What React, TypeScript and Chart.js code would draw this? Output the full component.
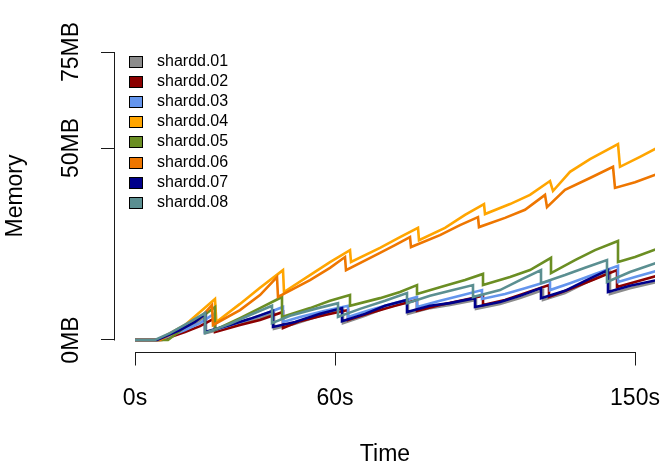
import React, { useEffect, useRef } from "react";
import { Chart, registerables } from "chart.js";

Chart.register(...registerables);

// ---- data ----
const seriesNames = ["shardd.01", "shardd.02", "shardd.03", "shardd.04", "shardd.05", "shardd.06", "shardd.07", "shardd.08"];
const seriesColors = ["#8c8c8c", "#8B0000", "#6495ED", "#FFA500", "#6B8E23", "#EE7600", "#00008B", "#5B8F91"];

const xTickValues = [0, 60, 150];
const xTickLabels = ["0s", "60s", "150s"];
const yTickValues = [0, 50, 75];
const yTickLabels = ["0MB", "50MB", "75MB"];

// time (s) and memory (MB) per series
const shardd01T = [0, 6.9, 13.5, 18, 21.3, 21.3, 28.5, 34.5, 41.7, 41.7, 48, 55.5, 62.4, 62.4, 69, 75, 81.9, 81.9, 88.5, 94.5, 102.3, 102.3, 109.5, 115.5, 122.4, 122.4, 129, 135, 142.5, 142.5, 148.5, 156.6];
const shardd01M = [0, 0, 2.1, 4.2, 6.3, 1.8, 3.4, 4.9, 7.0, 2.9, 4.2, 6.3, 7.8, 4.4, 6.3, 8.3, 9.9, 6.8, 8.3, 9.1, 10.4, 8.1, 9.4, 10.9, 13.0, 10.4, 12.2, 14.8, 17.7, 12.0, 13.5, 15.1];

const shardd02T = [0, 8.1, 15, 19.5, 24, 24, 31.5, 37.5, 44.4, 44.4, 49.5, 57, 63.9, 63.9, 70.5, 78, 84.6, 84.6, 91.5, 97.5, 104.4, 104.4, 111, 117, 124.2, 124.2, 130.5, 138, 144.6, 144.6, 150, 156.6];
const shardd02M = [0, 0, 2.1, 3.6, 5.7, 2.1, 3.9, 5.2, 7.3, 3.1, 4.9, 6.5, 7.8, 5.2, 7.0, 8.9, 10.4, 7.6, 9.1, 10.2, 11.5, 9.1, 10.4, 12.2, 14.3, 11.2, 13.3, 15.9, 18.2, 13.8, 15.1, 16.7];

const shardd03T = [0, 7.5, 15, 19.5, 24, 24, 31.5, 37.5, 44.4, 44.4, 49.5, 57, 63.9, 63.9, 70.5, 78, 84.6, 84.6, 91.5, 97.5, 104.1, 104.1, 111, 117, 124.5, 124.5, 130.5, 138, 144.9, 144.9, 150, 156.6];
const shardd03M = [0, 0, 2.6, 4.4, 7.0, 2.6, 4.7, 6.3, 8.6, 4.7, 6.0, 7.6, 8.9, 6.0, 7.8, 9.6, 11.2, 8.6, 10.2, 11.5, 13.0, 10.7, 12.0, 13.5, 15.4, 13.0, 14.8, 17.2, 19.3, 15.1, 16.4, 18.0];

const shardd04T = [0, 6.9, 15, 19.5, 24, 24.4, 31.5, 37.5, 44.4, 44.7, 52.5, 58.5, 64.5, 64.8, 73.5, 79.5, 84.9, 85.2, 93, 99, 104.7, 105, 112.5, 118.5, 124.5, 125.4, 130.5, 136.5, 144.9, 145.5, 151.5, 156.6];
const shardd04M = [0, 0, 3.9, 7.3, 10.7, 4.7, 9.4, 13.6, 18.2, 12.5, 16.9, 20.3, 23.4, 20.3, 24.0, 26.8, 29.2, 26.0, 29.2, 32.6, 35.4, 32.8, 35.4, 37.8, 41.4, 38.8, 43.8, 47.1, 51.0, 45.1, 47.7, 50.0];

const shardd05T = [0, 9.9, 15, 19.5, 24, 24, 31.5, 37.5, 44.1, 44.1, 52.5, 58.5, 64.5, 64.5, 73.5, 79.5, 84.6, 84.6, 93, 99, 104.4, 104.4, 112.5, 118.5, 124.8, 124.8, 132, 138, 144.9, 144.9, 150, 156.6];
const shardd05M = [0, 0, 3.4, 5.7, 8.6, 2.6, 5.7, 8.3, 11.2, 6.0, 8.3, 10.2, 11.7, 8.9, 10.9, 12.5, 14.3, 12.0, 14.1, 15.6, 17.2, 14.3, 16.4, 18.2, 21.4, 17.4, 20.8, 23.4, 25.8, 20.3, 21.6, 23.7];

const shardd06T = [0, 7.5, 15, 19.5, 23.1, 23.4, 31.5, 37.5, 42.6, 42.9, 52.5, 58.5, 63, 63.3, 73.5, 78, 82.5, 82.8, 91.5, 97.5, 102.9, 103.2, 111, 117, 123, 123.6, 129, 136.5, 143.4, 144, 150, 156.6];
const shardd06M = [0, 0, 3.4, 5.7, 9.1, 3.9, 7.8, 11.7, 16.4, 11.2, 15.6, 18.8, 21.6, 18.2, 22.7, 24.7, 26.8, 24.2, 27.3, 29.9, 32.0, 29.4, 31.8, 33.9, 37.8, 34.6, 39.1, 42.2, 45.1, 39.6, 41.1, 43.2];

const shardd07T = [0, 6.6, 13.5, 18, 21, 21, 28.5, 34.5, 41.4, 41.4, 48, 55.5, 62.1, 62.1, 69, 75, 81.6, 81.6, 88.5, 94.5, 102, 102, 109.5, 115.5, 121.8, 121.8, 129, 135, 141.9, 141.9, 148.5, 156.6];
const shardd07M = [0, 0, 2.6, 4.7, 6.8, 2.1, 3.9, 5.5, 7.6, 3.4, 4.7, 6.8, 8.3, 4.9, 6.8, 8.9, 10.4, 7.3, 8.9, 9.6, 10.9, 8.6, 9.9, 11.5, 13.5, 10.9, 12.8, 15.4, 18.2, 12.5, 14.1, 15.6];

const shardd08T = [0, 6, 10.5, 16.5, 21, 21, 28.5, 34.5, 41.1, 41.1, 46.5, 54, 60.9, 60.9, 67.5, 75, 81.6, 81.6, 88.5, 94.5, 101.4, 101.4, 109.5, 115.5, 121.8, 121.8, 129, 135, 141.6, 141.6, 148.5, 156.6];
const shardd08M = [0, 0, 1.8, 4.7, 7.0, 1.8, 4.2, 6.5, 8.9, 4.4, 6.3, 8.1, 9.6, 6.0, 8.1, 10.2, 12.2, 9.6, 11.5, 12.8, 14.3, 11.2, 13.0, 15.6, 18.2, 14.8, 16.9, 18.8, 20.8, 15.1, 17.7, 20.1];

const seriesTimes = [shardd01T, shardd02T, shardd03T, shardd04T, shardd05T, shardd06T, shardd07T, shardd08T];
const seriesMem = [shardd01M, shardd02M, shardd03M, shardd04M, shardd05M, shardd06M, shardd07M, shardd08M];

const FONT = '"Liberation Sans", Arial, Helvetica, sans-serif';

// R-style axis lines spanning only first..last tick
const rAxisPlugin = {
  id: "rAxisLines",
  afterDraw(chart: any) {
    const { ctx, chartArea } = chart;
    const xs = chart.scales.x;
    const ys = chart.scales.y;
    ctx.save();
    ctx.strokeStyle = "#1a1a1a";
    ctx.lineWidth = 1;
    ctx.beginPath();
    const yb = Math.round(chartArea.bottom) + 0.5;
    ctx.moveTo(Math.round(xs.getPixelForValue(xTickValues[0])) + 0.5, yb);
    ctx.lineTo(Math.round(xs.getPixelForValue(xTickValues[xTickValues.length - 1])) + 0.5, yb);
    const xl = Math.round(chartArea.left) - 0.5;
    ctx.moveTo(xl, Math.round(ys.getPixelForValue(yTickValues[0])) + 0.5);
    ctx.lineTo(xl, Math.round(ys.getPixelForValue(yTickValues[yTickValues.length - 1])) + 0.5);
    ctx.stroke();
    ctx.restore();
  },
};

// R-style legend (filled boxes, no frame) in the top-left of the plot
const rLegendPlugin = {
  id: "rLegend",
  afterDraw(chart: any) {
    const { ctx, chartArea } = chart;
    ctx.save();
    ctx.font = `16px ${FONT}`;
    ctx.textBaseline = "middle";
    ctx.textAlign = "left";
    chart.data.datasets.forEach((ds: any, i: number) => {
      const cy = chartArea.top + 20.8 + i * 20.17;
      const bx = chartArea.left + 14.5;
      ctx.fillStyle = ds.borderColor;
      ctx.fillRect(bx, Math.round(cy - 5.5) + 0.5, 13, 11);
      ctx.strokeStyle = "#000";
      ctx.lineWidth = 1;
      ctx.strokeRect(bx, Math.round(cy - 5.5) + 0.5, 13, 11);
      ctx.fillStyle = "#000";
      ctx.fillText(ds.label, chartArea.left + 42, cy);
    });
    ctx.restore();
  },
};

export default function App() {
  const canvasRef = useRef<HTMLCanvasElement | null>(null);

  useEffect(() => {
    document.body.style.margin = "0";
    const canvas = canvasRef.current;
    if (!canvas) return;

    const datasets = seriesNames.map((name, i) => ({
      label: name,
      data: seriesTimes[i].map((t, j) => ({ x: t, y: seriesMem[i][j] })),
      borderColor: seriesColors[i],
      backgroundColor: seriesColors[i],
      borderWidth: 2.6,
      pointRadius: 0,
      tension: 0,
      fill: false,
      clip: 0,
      order: seriesNames.length - i,
    }));

    const chart = new Chart(canvas, {
      type: "line",
      data: { datasets },
      options: {
        animation: false,
        responsive: false,
        devicePixelRatio: 1,
        parsing: false as any,
        layout: { padding: { top: 40.5, right: 9, left: 0, bottom: 0 } },
        plugins: {
          legend: { display: false },
          tooltip: { enabled: false },
        },
        scales: {
          x: {
            type: "linear",
            min: -6,
            max: 156,
            border: { display: false },
            grid: {
              display: true,
              drawOnChartArea: false,
              drawTicks: true,
              tickLength: 14,
              color: "#1a1a1a",
              lineWidth: 1,
            },
            afterBuildTicks: (scale: any) => {
              scale.ticks = xTickValues.map((v) => ({ value: v }));
            },
            afterFit: (scale: any) => {
              scale.height = 118.5;
              scale.paddingLeft = 0;
              scale.paddingRight = 0;
            },
            ticks: {
              autoSkip: false,
              maxRotation: 0,
              minRotation: 0,
              padding: 19,
              color: "#000",
              font: { family: FONT, size: 23 },
              callback: (v: any) => xTickLabels[xTickValues.indexOf(Number(v))] ?? "",
            },
            title: {
              display: true,
              text: "Time",
              color: "#000",
              font: { family: FONT, size: 23 },
              padding: { top: 0, bottom: 2 },
            },
          },
          y: {
            type: "linear",
            min: -3,
            max: 78,
            border: { display: false },
            grid: {
              display: true,
              drawOnChartArea: false,
              drawTicks: true,
              tickLength: 14,
              color: "#1a1a1a",
              lineWidth: 1,
            },
            afterBuildTicks: (scale: any) => {
              scale.ticks = yTickValues.map((v) => ({ value: v }));
            },
            afterFit: (scale: any) => {
              scale.width = 115;
              scale.paddingTop = 0;
              scale.paddingBottom = 0;
            },
            ticks: {
              autoSkip: false,
              minRotation: 90,
              maxRotation: 90,
              crossAlign: "center",
              padding: -1,
              color: "#000",
              font: { family: FONT, size: 23 },
              callback: (v: any) => yTickLabels[yTickValues.indexOf(Number(v))] ?? "",
            },
            title: {
              display: true,
              text: "Memory",
              color: "#000",
              font: { family: FONT, size: 23 },
              padding: { top: 2, bottom: 0 },
            },
          },
        },
      },
      plugins: [rAxisPlugin, rLegendPlugin],
    } as any);

    return () => chart.destroy();
  }, []);

  return (
    <div style={{ position: "absolute", left: 0, top: 0, width: 664, height: 470, background: "#fff" }}>
      <canvas ref={canvasRef} width={664} height={470} style={{ width: 664, height: 470, display: "block" }} />
    </div>
  );
}
